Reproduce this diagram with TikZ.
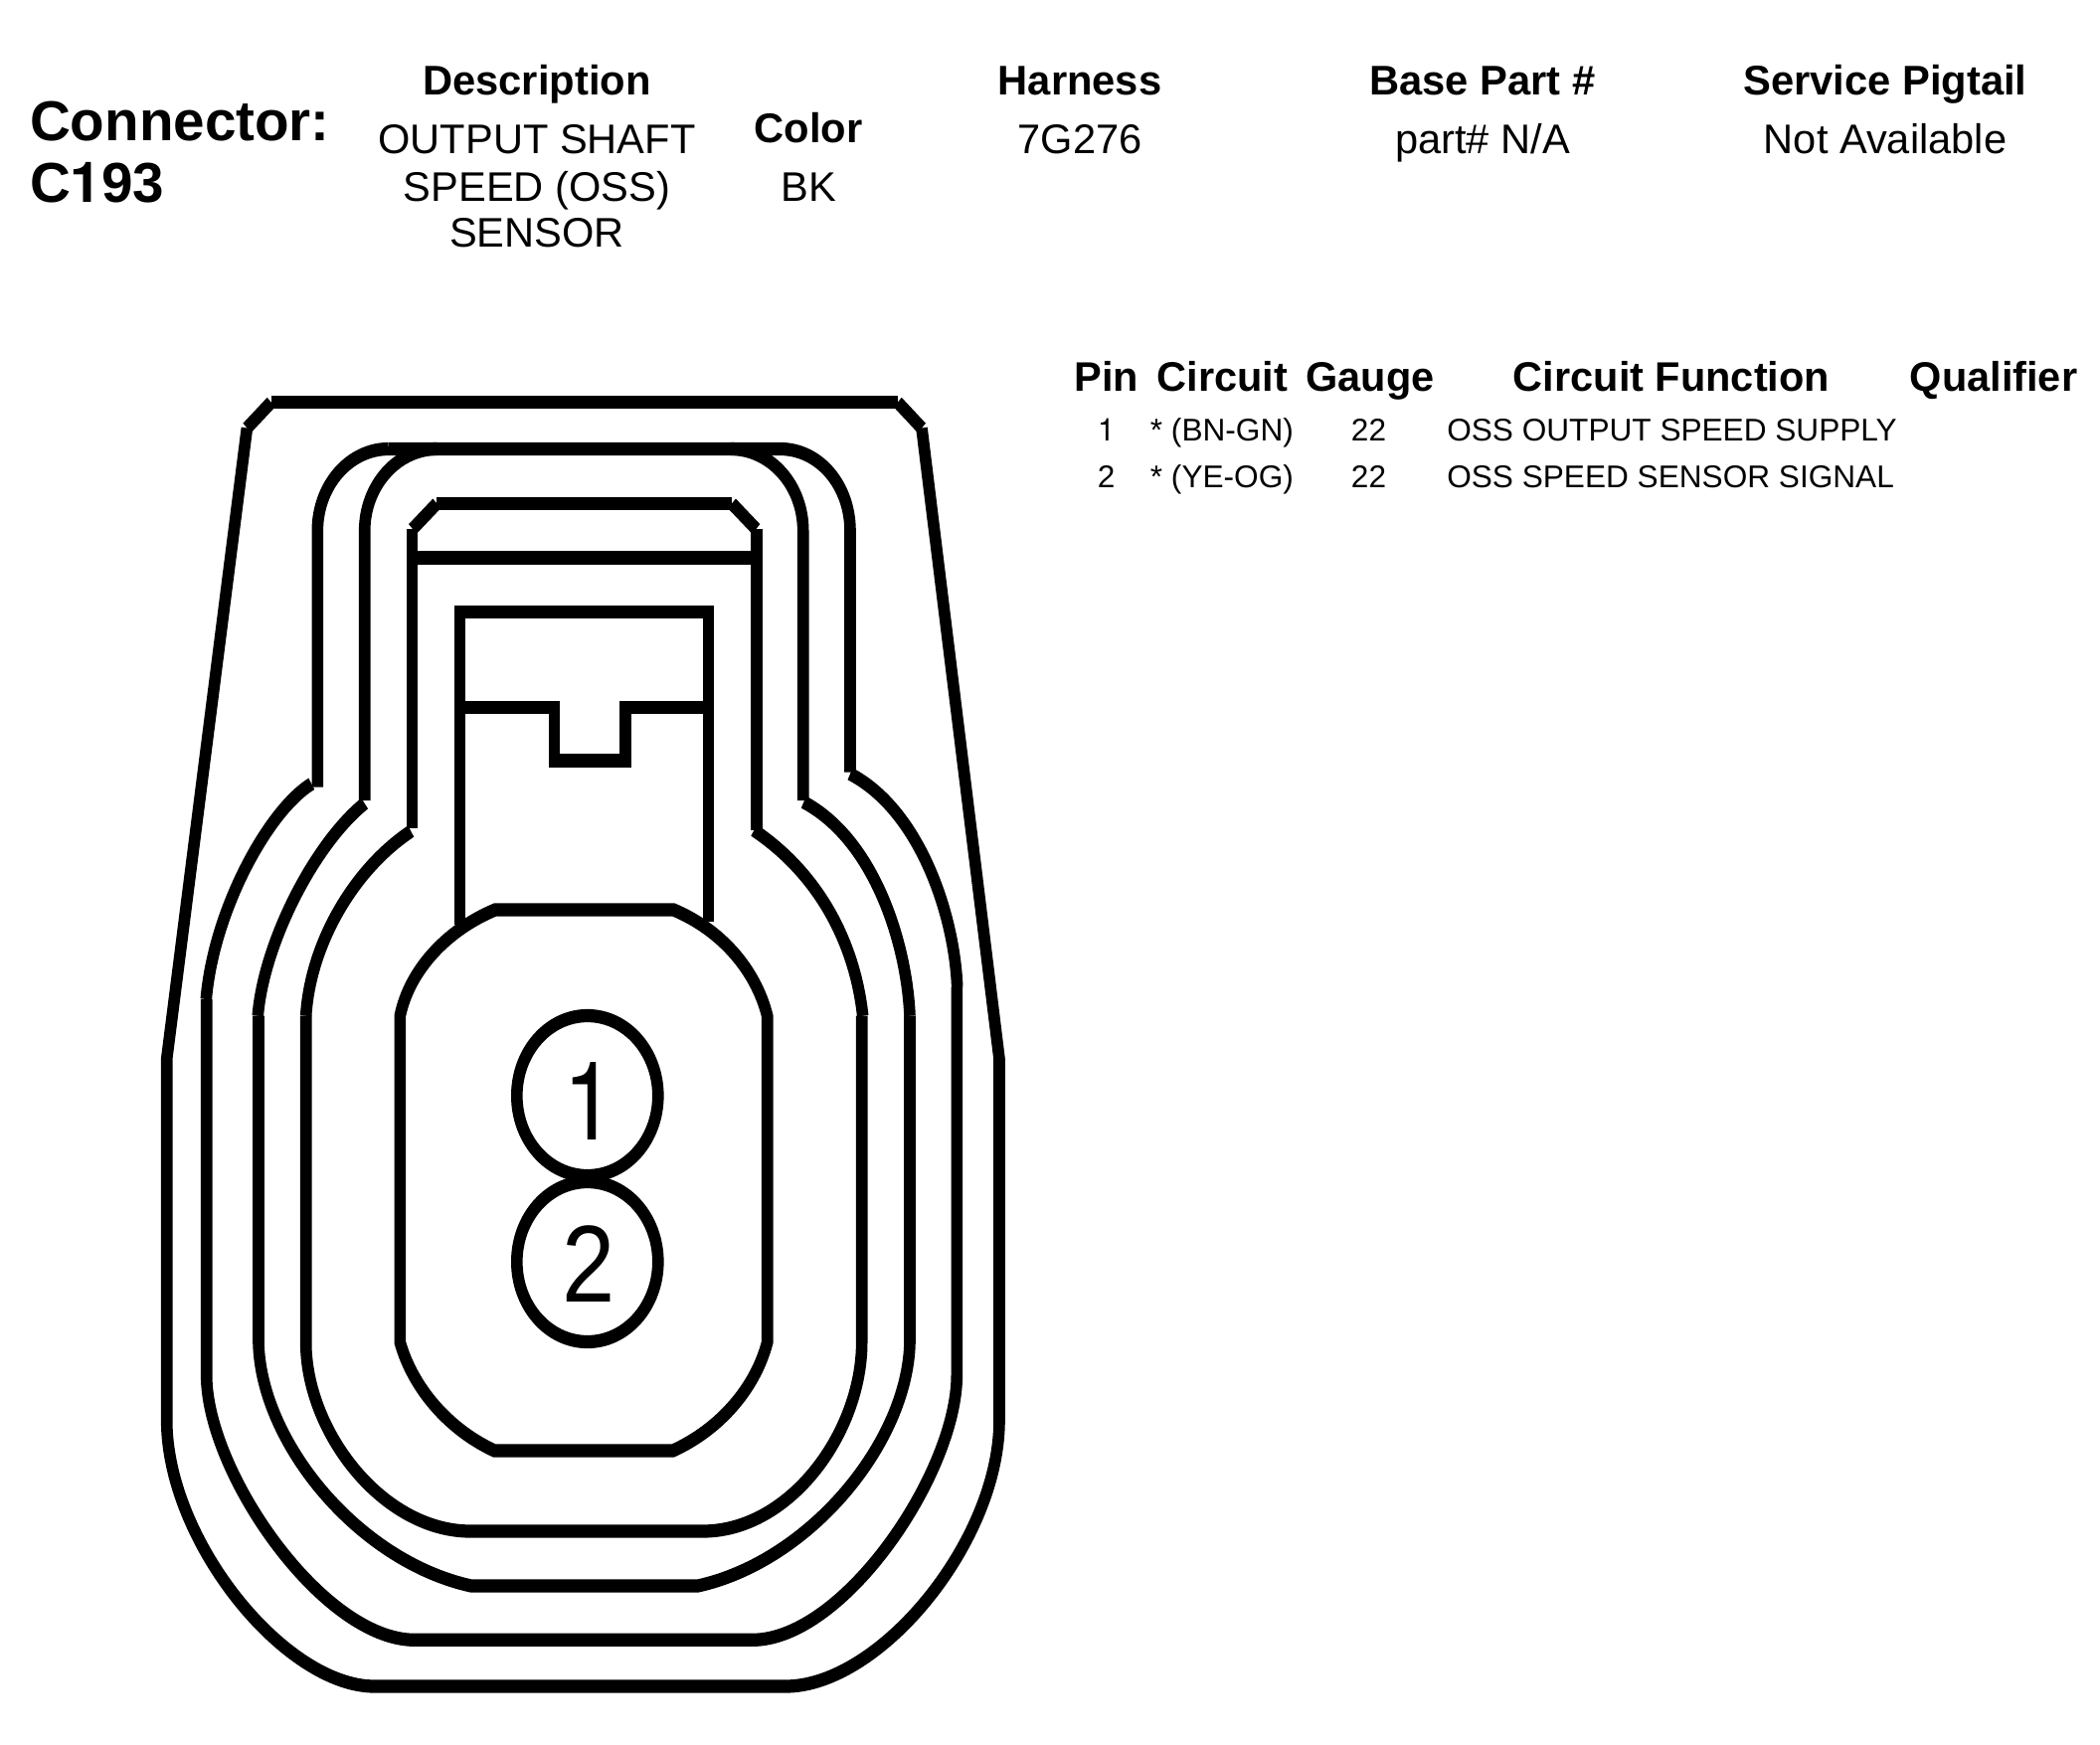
\documentclass[tikz,border=0pt]{standalone}
\usepackage{fontspec}
\setmainfont{Liberation Sans}
\newfontfamily\heros{TeX Gyre Heros}
\newfontfamily\pinlib[FakeStretch=0.87]{Liberation Sans}
\newfontfamily\pinhero[FakeStretch=0.87]{TeX Gyre Heros}
\tikzset{
 lbl/.style={inner sep=0pt,outer sep=0pt,anchor=base,text=black},
 bigt/.style={lbl,anchor=base west,font=\fontsize{56.6}{60}\selectfont\bfseries},
 hd/.style={lbl,font=\fontsize{41.7}{44}\selectfont\bfseries},
 thd/.style={lbl,font=\fontsize{41.5}{44}\selectfont\bfseries},
 val/.style={lbl,font=\fontsize{41.6}{44}\selectfont},
 row/.style={lbl,font=\fontsize{31.6}{34}\selectfont},
 pinno/.style={lbl,font=\fontsize{110}{114}\selectfont},
 wire/.style={draw=black,line width=11.6pt,line cap=butt,line join=miter},
}
\begin{document}
\begin{tikzpicture}[x=1pt,y=-1pt]
\useasboundingbox (0,0) rectangle (2112,1754);
\fill[white] (0,0) rectangle (2112,1754);
\begin{scope}[transform canvas={yscale=1.14},y=-0.877193pt]
% outer shell
\draw[wire] (272.7,404.6) -- (902.8,404.6);
\draw[wire] (272.7,404.6) -- (248.4,430.5);
\draw[wire] (902.8,404.6) -- (927,430.5);
\draw[wire] (248.4,430.5) -- (167.7,1064.9) -- (167.7,1428.3) .. controls (167.7,1550) and (287,1696) .. (376.7,1696) -- (790,1696) .. controls (885,1696) and (1005,1550) .. (1005,1428.3) -- (1005,1064.9) -- (927,430.5);
% ring A
\draw[wire] (390.8,451.5) .. controls (351.5,451.5) and (319.3,488) .. (319.3,534) -- (319.3,791.7);
\draw[wire] (313.3,788.3) .. controls (270,815) and (215,915) .. (207.3,1005);
\draw[wire] (207.7,1005) -- (207.7,1383) .. controls (207.7,1481) and (325,1649.3) .. (417,1649.3) -- (756.7,1649.3) .. controls (848.7,1649.3) and (962.3,1481) .. (962.3,1383) -- (962.3,993);
\draw[wire] (962.7,993) .. controls (960,920) and (925,815) .. (855,778.3);
\draw[wire] (855,776.7) -- (855,534) .. controls (855,488) and (824,451.5) .. (784.6,451.5) -- (390.8,451.5);
% ring B
\draw[wire] (439.3,451.5) .. controls (400,451.5) and (366.7,488) .. (366.7,534) -- (366.7,805);
\draw[wire] (366.7,808) .. controls (315,850) and (265,950) .. (259.3,1021.7);
\draw[wire] (260,1021.7) -- (260,1350) .. controls (262,1450) and (360,1570) .. (474,1595) -- (701.7,1595) .. controls (815,1570) and (913,1450) .. (915,1350) -- (915,1021.7);
\draw[wire] (915,1021.7) .. controls (912,950) and (880,845) .. (808.3,806.7);
\draw[wire] (807.7,805) -- (807.7,534) .. controls (807.7,488) and (775,451.5) .. (735,451.5);
% ring C
\draw[wire] (439.3,506.4) -- (736,506.4);
\draw[wire] (439.3,506.4) -- (415,532);
\draw[wire] (736,506.4) -- (760.4,532);
\draw[wire] (414.3,532) -- (414.3,833.3);
\draw[wire] (413.3,836) .. controls (355,875) and (312,950) .. (307.7,1021.7);
\draw[wire] (307.7,1021.7) -- (307.7,1350) .. controls (307.7,1440) and (385,1540) .. (473.3,1540) -- (706.7,1540) .. controls (795,1540) and (866.7,1440) .. (866.7,1350) -- (866.7,1021.7);
\draw[wire] (867.7,1021.7) .. controls (860,950) and (825,880) .. (758.3,835);
\draw[wire] (760.7,835) -- (760.7,532);
\draw[wire] (414.3,561) -- (760.7,561);
% inner latch
\draw[wire] (456.8,615.8) -- (717.8,615.8);
\draw[wire] (462.3,615.8) -- (462.3,930);
\draw[wire] (712.3,615.8) -- (712.3,927);
\draw[wire] (462.3,711.3) -- (557.4,711.3) -- (557.4,765) -- (629,765) -- (629,711.3) -- (712.3,711.3);
% body
\draw[wire] (498,915) -- (677.4,915) .. controls (725,935) and (760,975) .. (771.7,1021.7) -- (771.7,1350) .. controls (760,1395) and (725,1437) .. (676.7,1459) -- (497.3,1459) .. controls (450,1437) and (415,1395) .. (402.3,1350) -- (402.3,1021.7) .. controls (412,975) and (450,935) .. (498,915) -- cycle;
% pins
\draw[wire] (590.8,1102) ellipse [x radius=71,y radius=80.5];
\draw[wire] (590.8,1269) ellipse [x radius=71,y radius=80.5];
\end{scope}
\node[pinno] (pa) at (593,1146.6) {\pinhero 1};
\node[pinno] (pb) at (592,1309.5) {\pinlib 2};
\node[bigt] (conn) at (30,141.7) {Connector:};
\node[bigt] (cnum) at (30,203.3) {C{\heros 1}93};
\node[hd] (hdesc) at (540,95.5) {Description};
\node[val] (d1) at (540,154.5) {OUTPUT SHAFT};
\node[val] (d2) at (540,202) {SPEED (OSS)};
\node[val] (d3) at (540,248) {SENSOR};
\node[hd] (hcol) at (813,143) {Color};
\node[val] (vcol) at (813,202) {BK};
\node[hd] (hhar) at (1086,95.5) {Harness};
\node[val] (vhar) at (1086,154.5) {7G276};
\node[hd] (hbase) at (1491,95.5) {Base Part \#};
\node[val] (vbase) at (1491,154.5) {part\# N/A};
\node[hd] (hserv) at (1896,95.5) {Service Pigtail};
\node[val] (vserv) at (1896,154.5) {Not Available};
\node[thd] (tpin) at (1112.6,393.3) {Pin};
\node[thd] (tcir) at (1229.6,393.3) {Circuit};
\node[thd] (tgau) at (1378,393.3) {Gauge};
\node[thd] (tfun) at (1681,393.3) {Circuit Function};
\node[thd] (tqua) at (2005,393.3) {Qualifier};
\node[row] (r1p) at (1112.6,443) {\heros 1};
\node[row] (r1c) at (1228.9,443) {* (BN-GN)};
\node[row] (r1g) at (1376.5,443) {22};
\node[row,anchor=base west] (r1f) at (1455.3,443) {OSS OUTPUT SPEED SUPPLY};
\node[row] (r2p) at (1112.6,490.7) {2};
\node[row] (r2c) at (1228.9,490.7) {* (YE-OG)};
\node[row] (r2g) at (1376.5,490.7) {22};
\node[row,anchor=base west] (r2f) at (1455.3,490.7) {OSS SPEED SENSOR SIGNAL};
\end{tikzpicture}
\end{document}
